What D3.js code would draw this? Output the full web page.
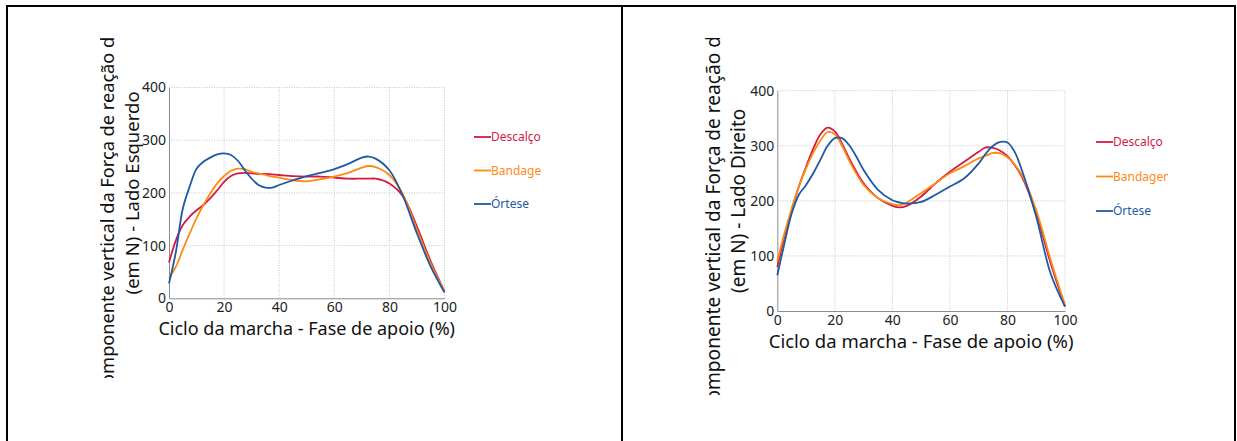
<!DOCTYPE html>
<html>
<head>
<meta charset="utf-8">
<script src="https://cdn.jsdelivr.net/npm/d3@7"></script>
<style>
  body { margin: 0; background: #fff; }
  text { font-family: "Noto Sans", "Open Sans", sans-serif; }
</style>
</head>
<body>
<div id="container"></div>
<script>
// shared labels
const seriesNames = ["Descalço", "Bandagem", "Órtese"];
const seriesColors = ["#d21a44", "#ff8a12", "#1d5aa6"];
const xTicks = [0, 20, 40, 60, 80, 100];
const yTicks = [0, 100, 200, 300, 400];
const xTitle = "Ciclo da marcha - Fase de apoio (%)";
const yTitle1 = "Componente vertical da Força de reação do solo";

// left side (Lado Esquerdo)
const leftX = [0, 2.5, 5, 7.5, 10, 12.5, 15, 17.5, 20, 22.5, 25, 27.5, 30, 32.5, 35, 37.5, 40, 45, 50, 55, 60, 65, 70, 72.5, 75, 80, 85, 90, 95, 100];
const leftDescalco = [68, 110, 139, 155, 167, 177, 190, 205, 221, 232, 237, 238, 237, 236, 236, 235, 234, 232, 231, 231, 229, 227, 227, 227, 227, 218, 193, 136, 70, 13];
const leftBandagem = [38, 60, 92, 123, 152, 177, 199, 218, 232, 242, 246, 245, 240, 237, 234, 231, 229, 224, 222, 226, 231, 238, 248, 251, 249, 234, 196, 130, 66, 13];
const leftOrtese = [28, 88, 170, 212, 246, 259, 267, 273, 275, 272, 261, 243, 227, 215, 210, 210, 215, 224, 232, 238, 245, 255, 267, 269, 265, 243, 193, 123, 60, 11];

// right side (Lado Direito)
const rightX = [0, 2.5, 5, 7.5, 10, 12.5, 15, 17.5, 20, 22.5, 25, 27.5, 30, 35, 40, 42.5, 45, 50, 55, 60, 65, 70, 72.5, 75, 77.5, 80, 82.5, 85, 90, 95, 100];
const rightDescalco = [80, 135, 183, 226, 262, 295, 321, 333, 326, 304, 277, 253, 232, 205, 191, 188, 191, 208, 232, 253, 271, 289, 297, 296, 291, 281, 265, 244, 177, 87, 8];
const rightBandagem = [90, 141, 186, 226, 259, 287, 310, 325, 321, 300, 273, 249, 229, 205, 194, 192, 197, 214, 232, 250, 263, 277, 282, 287, 286, 279, 266, 247, 183, 93, 11];
const rightOrtese = [65, 123, 177, 211, 229, 250, 275, 300, 314, 314, 301, 280, 256, 220, 201, 197, 195, 198, 211, 226, 241, 268, 286, 300, 307, 306, 289, 256, 171, 68, 8];

const w = 1237;
const h = 441;
const svg = d3.select("#container")
  .append("svg")
  .attr("width", w)
  .attr("height", h);

// frame around the two panels
svg.append("line").attr("x1", 6).attr("x2", 1236).attr("y1", 6).attr("y2", 6)
  .attr("stroke", "#000").attr("stroke-width", 2);
[7, 622, 1235].forEach(x => {
  svg.append("line").attr("x1", x).attr("x2", x).attr("y1", 5).attr("y2", h)
    .attr("stroke", "#000").attr("stroke-width", 2);
});

function drawChart(cfg) {
  const g = svg.append("g");
  const clipId = "clip" + cfg.id;
  svg.append("clipPath").attr("id", clipId)
    .append("rect")
    .attr("x", cfg.clip[0]).attr("y", cfg.clip[1])
    .attr("width", cfg.clip[2]).attr("height", cfg.clip[3]);
  g.attr("clip-path", "url(#" + clipId + ")");

  const xScale = d3.scaleLinear().domain([0, 100]).range([cfg.left, cfg.right]);
  const yScale = d3.scaleLinear().domain([0, 400]).range([cfg.bottom, cfg.top]);

  // dotted grid
  g.selectAll(".vgrid")
    .data(xTicks.filter(d => d > 0))
    .enter()
    .append("line")
    .attr("x1", d => xScale(d)).attr("x2", d => xScale(d))
    .attr("y1", cfg.top).attr("y2", cfg.bottom)
    .attr("stroke", "#c4c4c4").attr("stroke-dasharray", "1,1.5");
  g.selectAll(".hgrid")
    .data(yTicks.filter(d => d > 0))
    .enter()
    .append("line")
    .attr("x1", cfg.left).attr("x2", cfg.right)
    .attr("y1", d => yScale(d)).attr("y2", d => yScale(d))
    .attr("stroke", "#c4c4c4").attr("stroke-dasharray", "1,1.5");

  // axes
  const xAxis = d3.axisBottom(xScale).tickValues(xTicks).tickSize(0).tickPadding(4);
  const yAxis = d3.axisLeft(yScale).tickValues(yTicks).tickSize(0).tickPadding(3);
  const gx = g.append("g")
    .attr("transform", "translate(0, " + cfg.bottom + ")")
    .call(xAxis);
  const gy = g.append("g")
    .attr("transform", "translate(" + cfg.left + ", 0)")
    .call(yAxis);
  [gx, gy].forEach(a => {
    a.select(".domain").attr("stroke", "#8c8c8c");
    a.selectAll("text")
      .style("font-family", "'Noto Sans', sans-serif")
      .style("font-size", "14px")
      .attr("fill", "#222");
  });

  // curves
  const line = d3.line()
    .x(d => xScale(d[0]))
    .y(d => yScale(d[1]))
    .curve(d3.curveCatmullRom.alpha(0.5));
  cfg.series.forEach((vals, i) => {
    g.append("path")
      .datum(cfg.xs.map((x, j) => [x, vals[j]]))
      .attr("fill", "none")
      .attr("stroke", seriesColors[i])
      .attr("stroke-width", 1.8)
      .attr("d", line);
  });

  // axis titles
  const cx = (cfg.left + cfg.right) / 2;
  const cy = (cfg.top + cfg.bottom) / 2;
  g.append("text")
    .attr("x", cx).attr("y", cfg.bottom + 37)
    .attr("text-anchor", "middle")
    .style("font-size", cfg.xtSize + "px")
    .attr("fill", "#111")
    .text(xTitle);
  g.append("text")
    .attr("transform", "translate(" + cfg.yt1 + "," + cfg.yt1c + ") rotate(-90)")
    .attr("text-anchor", "middle")
    .style("font-size", cfg.yt1Size + "px")
    .attr("fill", "#111")
    .text(yTitle1);
  g.append("text")
    .attr("transform", "translate(" + cfg.yt2 + "," + cy + ") rotate(-90)")
    .attr("text-anchor", "middle")
    .style("font-size", cfg.yt2Size + "px")
    .attr("fill", "#111")
    .text(cfg.yTitle2);

  // legend
  seriesNames.forEach((name, i) => {
    const ly = cfg.legY + i * cfg.legStep;
    g.append("line")
      .attr("x1", cfg.legX).attr("x2", cfg.legX + 17)
      .attr("y1", ly).attr("y2", ly)
      .attr("stroke", seriesColors[i]).attr("stroke-width", 1.8);
    g.append("text")
      .attr("x", cfg.legX + 17).attr("y", ly + 4)
      .style("font-size", "12px")
      .attr("fill", seriesColors[i])
      .text(name);
  });
}

drawChart({
  id: "L", xs: leftX, series: [leftDescalco, leftBandagem, leftOrtese],
  left: 169, right: 444.5, top: 87.5, bottom: 298.3,
  clip: [100, 38, 441, 340], xtSize: 18,
  yt1: 113.5, yt1c: 191, yt1Size: 18.2,
  yt2: 138.5, yt2Size: 18.5, yTitle2: "(em N) - Lado Esquerdo",
  legX: 474, legY: 137, legStep: 33.5
});

drawChart({
  id: "R", xs: rightX, series: [rightDescalco, rightBandagem, rightOrtese],
  left: 777.3, right: 1065, top: 90.7, bottom: 311,
  clip: [705, 38, 463, 357], xtSize: 18.5,
  yt1: 719.5, yt1c: 198, yt1Size: 19.1,
  yt2: 745, yt2Size: 19, yTitle2: "(em N) - Lado Direito",
  legX: 1096, legY: 142, legStep: 34.5
});
</script>
</body>
</html>
